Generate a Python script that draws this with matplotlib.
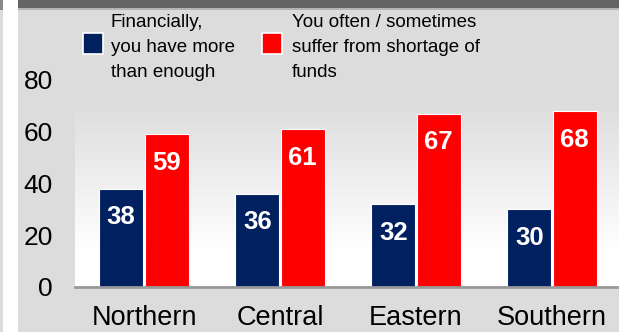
import matplotlib.pyplot as plt
import numpy as np

regions = ['Northern', 'Central', 'Eastern', 'Southern']
enough = [38, 36, 32, 30]
shortage = [59, 61, 67, 68]
series_names = ['Financially,\nyou have more\nthan enough',
                'You often / sometimes\nsuffer from shortage of\nfunds']
yticks = [0, 20, 40, 60, 80]

blue = '#002060'
red = '#ff0000'
panel = '#dcdcdc'

plt.rcParams['font.family'] = ['Liberation Sans', 'DejaVu Sans']

W, H = 619, 332
fig = plt.figure(figsize=(W / 100, H / 100), dpi=100)
fig.patch.set_facecolor(panel)

def px_axes(x0, y0, x1, y1):
    # rectangle given in pixel coords (top-left origin)
    return [x0 / W, 1 - y1 / H, (x1 - x0) / W, (y1 - y0) / H]

# frame decorations
deco = fig.add_axes([0, 0, 1, 1])
deco.set_xlim(0, W)
deco.set_ylim(H, 0)
deco.axis('off')
deco.add_patch(plt.Rectangle((3, 0), 15, H, color='white', lw=0))
deco.add_patch(plt.Rectangle((0, 0), 3, 10, color='#8a8a8a', lw=0))
deco.add_patch(plt.Rectangle((18, 0), W - 18, 8, color='#646464', lw=0))
deco.add_patch(plt.Rectangle((18, 8), W - 18, 2, color='#b4b4b4', lw=0))

# gradient background of plot area
bg = fig.add_axes(px_axes(75, 100, W, 287))
grad = np.linspace(0, 1, 100).reshape(-1, 1)
top_c = np.array([0.863, 0.863, 0.863])
bot_c = np.array([1.0, 1.0, 1.0])
t = np.clip(grad / 0.8, 0, 1)
img = top_c + (bot_c - top_c) * t
bg.imshow(img.reshape(100, 1, 3), aspect='auto', extent=[0, 1, 0, 1], origin='upper')
bg.axis('off')

ax = fig.add_axes(px_axes(75, 80, W, 287))
ax.patch.set_alpha(0)
x = np.arange(len(regions))
w = 0.325
b1 = ax.bar(x - w / 2 - 0.005, enough, w, color=blue, edgecolor='white', linewidth=0.8)
b2 = ax.bar(x + w / 2 + 0.005, shortage, w, color=red, edgecolor='white', linewidth=0.8)
for bars, vals in ((b1, enough), (b2, shortage)):
    for r, v in zip(bars, vals):
        ax.text(r.get_x() + r.get_width() / 2, v - 11, str(v), ha='center', va='center',
                color='white', fontsize=18.5, fontweight='bold')

ax.set_xlim(-69 / 136, 3 + 67 / 136)
ax.set_ylim(0, 80)
ax.set_yticks(yticks)
ax.set_xticks(x)
ax.set_xticklabels(regions)
ax.tick_params(axis='both', length=0, labelsize=19, colors='black')
ax.tick_params(axis='x', labelsize=19.5, pad=13)
ax.tick_params(axis='y', pad=16)
for s in ['top', 'right', 'left']:
    ax.spines[s].set_visible(False)
ax.spines['bottom'].set_color('#999999')
ax.spines['bottom'].set_linewidth(2)

# legend
for (sx, tx), col, name in zip(((83, 111), (262, 292)), (blue, red), series_names):
    deco.add_patch(plt.Rectangle((sx, 33), 20, 21, facecolor=col, edgecolor='white', lw=1.2))
    deco.text(tx, 14, name, ha='left', va='top', fontsize=13.5, linespacing=1.62)

fig.savefig('out.png', dpi=100, facecolor=fig.get_facecolor())
